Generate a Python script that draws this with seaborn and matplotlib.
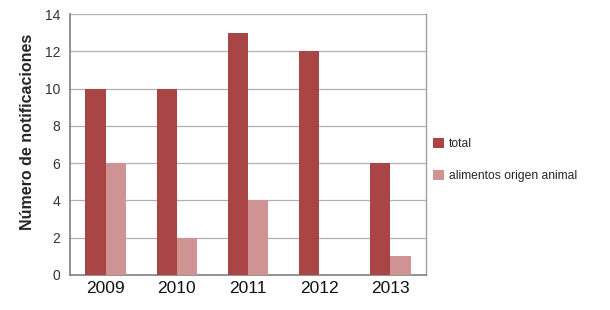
import matplotlib
matplotlib.use("Agg")
import matplotlib.pyplot as plt
import seaborn as sns
import pandas as pd

years = ["2009", "2010", "2011", "2012", "2013"]
total = [10, 10, 13, 12, 6]
animal = [6, 2, 4, 0, 1]
series_names = ["total", "alimentos origen animal"]
colors = ["#a94545", "#d09393"]

df = pd.DataFrame({
    "year": years * 2,
    "value": total + animal,
    "series": [series_names[0]] * len(years) + [series_names[1]] * len(years),
})

sns.set_style("white")
plt.rcParams["font.family"] = ["Arial", "Liberation Sans", "DejaVu Sans"]

fig = plt.figure(figsize=(6.1, 3.1), dpi=100)
ax = fig.add_axes([70/610, 1 - 275/310, (426-70)/610, (275-14)/310])

sns.barplot(data=df, x="year", y="value", hue="series", palette=colors,
            width=0.57, gap=0, saturation=1, ax=ax, legend=True, zorder=3,
            linewidth=0, edgecolor="none")

ax.set_ylim(0, 14)
ax.set_yticks(range(0, 15, 2))
ax.yaxis.grid(True, color="#b0b0b0", linewidth=0.9, zorder=0)
ax.set_axisbelow(True)
ax.set_xlabel("")
ax.set_ylabel("Número de notificaciones", fontsize=11.5, fontweight="bold")
ax.yaxis.set_label_coords(-0.097, 0.55)
ax.tick_params(axis="y", labelsize=10, labelcolor="#333333", length=4, color="#888888", width=0.8, pad=3)
ax.tick_params(axis="x", labelsize=12.5, labelcolor="#111111", length=0, pad=4)
for s in ["left", "bottom"]:
    ax.spines[s].set_color("#808080")
    ax.spines[s].set_linewidth(1.2)
ax.spines["right"].set_color("#a0a0a0")
ax.spines["right"].set_linewidth(1.0)
ax.spines["top"].set_visible(False)

handles, labels = ax.get_legend_handles_labels()
ax.get_legend().remove()
fig.legend(handles, labels, loc="upper left", bbox_to_anchor=(0.692, 0.59),
           frameon=False, fontsize=8.7, handlelength=0.9, handleheight=0.9,
           handletextpad=0.4, labelspacing=1.65)

fig.savefig("out.png", dpi=100)
